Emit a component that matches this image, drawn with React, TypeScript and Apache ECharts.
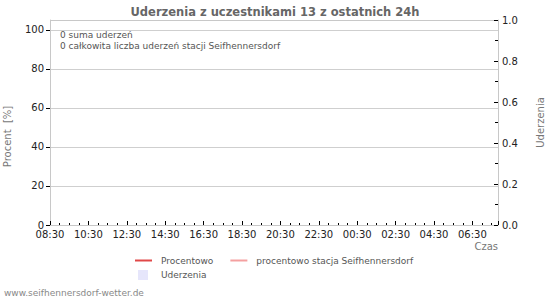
import React, { useEffect, useRef } from "react";
import * as echarts from "echarts";

const TITLE = "Uderzenia z uczestnikami 13 z ostatnich 24h";
const START_LABEL_MIN = 8 * 60 + 30; // 08:30
const X_MAX_MIN = 1400; // minutes shown after 08:30
const PERCENT_TICKS = [0, 20, 40, 60, 80, 100];
const procentowo: [number, number][] = [];
const procentowoStacja: [number, number][] = [];
const uderzenia: [number, number][] = [];
const sumaUderzen = 0;
const sumaStacji = 0;

function fmtTime(v: number): string {
  const t = (START_LABEL_MIN + v) % 1440;
  const h = Math.floor(t / 60);
  const m = t % 60;
  return String(h).padStart(2, "0") + ":" + String(m).padStart(2, "0");
}

export default function App() {
  const ref = useRef<HTMLDivElement>(null);
  useEffect(() => {
    if (!ref.current) return;
    const chart = echarts.init(ref.current, null, { renderer: "svg" });
    const font = "DejaVu Sans";
    const axisGray = "#c8c8c8";
    chart.setOption({
      animation: false,
      textStyle: { fontFamily: font },
      title: {
        text: TITLE,
        left: "center",
        top: 1,
        textStyle: { fontSize: 11.5, fontWeight: "bold", color: "#666", fontFamily: font },
      },
      grid: { left: 50, right: 52, top: 20, bottom: 75, containLabel: false, outerBoundsMode: "none" },
      legend: [
        {
          data: [
            { name: "Procentowo", icon: "rect" },
            { name: "procentowo stacja Seifhennersdorf", icon: "rect" },
          ],
          left: 135,
          top: 256,
          padding: 0,
          itemWidth: 17,
          itemHeight: 2,
          itemGap: 17,
          textStyle: { fontSize: 9, color: "#555", fontFamily: font, padding: [0, 0, 0, 4] },
        },
        {
          data: [{ name: "Uderzenia", icon: "rect" }],
          left: 138,
          top: 270,
          padding: 0,
          itemWidth: 10,
          itemHeight: 10,
          itemGap: 10,
          textStyle: { fontSize: 9, color: "#555", fontFamily: font, padding: [0, 0, 0, 8] },
        },
      ],
      xAxis: [
        {
          type: "value",
          min: 0,
          max: X_MAX_MIN,
          interval: 30,
          axisLine: { show: true, onZero: false, lineStyle: { color: axisGray } },
          axisTick: { show: true, inside: true, length: 2, lineStyle: { color: "#000" } },
          axisLabel: { show: false },
          splitLine: { show: false },
        },
        {
          type: "value",
          min: 0,
          max: X_MAX_MIN,
          interval: 120,
          position: "bottom",
          name: "Czas",
          nameLocation: "end",
          nameGap: 0,
          nameTextStyle: {
            align: "right",
            verticalAlign: "top",
            padding: [16, 0, 0, 0],
            fontSize: 10,
            color: "#777",
            fontFamily: font,
          },
          axisLine: { show: false, onZero: false },
          axisTick: { show: true, inside: true, length: 4, lineStyle: { color: "#000" } },
          axisLabel: {
            fontSize: 10,
            color: "#222",
            margin: 4,
            fontFamily: font,
            formatter: (v: number) => (v % 120 === 0 && v < X_MAX_MIN ? fmtTime(v) : ""),
          },
          splitLine: { show: false },
        },
      ],
      yAxis: [
        {
          type: "value",
          min: 0,
          max: 105,
          interval: 20,
          position: "left",
          name: "Procent  [%]",
          nameLocation: "middle",
          nameGap: 38,
          nameTextStyle: { fontSize: 10, color: "#777", fontFamily: font, padding: [0, 28, 0, 0] },
          axisLine: { show: true, onZero: false, lineStyle: { color: axisGray } },
          axisTick: {
            show: true,
            inside: false,
            length: 4,
            lineStyle: { color: "#000" },
            customValues: PERCENT_TICKS,
          },
          axisLabel: {
            fontSize: 10,
            color: "#222",
            margin: 6,
            fontFamily: font,
            customValues: PERCENT_TICKS,
          },
          splitLine: { show: true, lineStyle: { color: "#cfcfcf" } },
        },
        {
          type: "value",
          min: 0,
          max: 1,
          interval: 0.2,
          position: "right",
          name: "Uderzenia",
          nameLocation: "middle",
          nameGap: 37,
          nameTextStyle: { fontSize: 10, color: "#777", fontFamily: font },
          axisLine: { show: true, onZero: false, lineStyle: { color: axisGray } },
          axisTick: { show: true, inside: true, length: 4, lineStyle: { color: "#000" } },
          minorTick: { show: true, splitNumber: 2, length: 3, lineStyle: { color: "#000" } },
          axisLabel: {
            fontSize: 10,
            color: "#222",
            margin: 4,
            fontFamily: font,
            formatter: (v: number) => v.toFixed(1),
          },
          splitLine: { show: false },
        },
      ],
      graphic: [
        {
          type: "line",
          shape: { x1: 50, y1: 20.5, x2: 498, y2: 20.5 },
          style: { stroke: axisGray, lineWidth: 1 },
        },
        {
          type: "text",
          left: 60,
          top: 29,
          style: {
            text: `${sumaUderzen} suma uderzeń\n${sumaStacji} całkowita liczba uderzeń stacji Seifhennersdorf`,
            fontSize: 9,
            lineHeight: 11,
            fill: "#555",
            fontFamily: font,
          },
        },
        {
          type: "text",
          left: 4,
          top: 288,
          style: {
            text: "www.seifhennersdorf-wetter.de",
            fontSize: 9,
            fill: "#888",
            fontFamily: font,
          },
        },
      ],
      series: [
        {
          name: "Uderzenia",
          type: "bar",
          xAxisIndex: 0,
          yAxisIndex: 1,
          data: uderzenia,
          itemStyle: { color: "#e6e6fb" },
        },
        {
          name: "Procentowo",
          type: "line",
          xAxisIndex: 0,
          yAxisIndex: 0,
          data: procentowo,
          showSymbol: false,
          lineStyle: { color: "#e04848", width: 2 },
          itemStyle: { color: "#e04848" },
        },
        {
          name: "procentowo stacja Seifhennersdorf",
          type: "line",
          xAxisIndex: 0,
          yAxisIndex: 0,
          data: procentowoStacja,
          showSymbol: false,
          lineStyle: { color: "#f4a0a0", width: 2 },
          itemStyle: { color: "#f4a0a0" },
        },
      ],
    });
    return () => chart.dispose();
  }, []);
  return (
    <div
      ref={ref}
      style={{ position: "absolute", left: 0, top: 0, width: 550, height: 300 }}
    />
  );
}
